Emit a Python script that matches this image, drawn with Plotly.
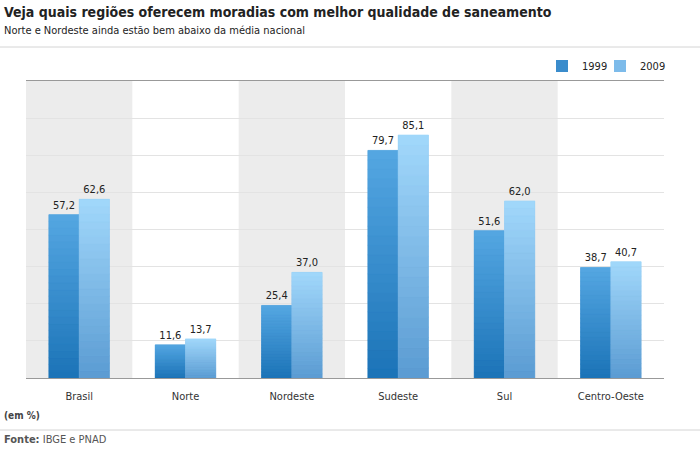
import plotly.graph_objects as go

categories = ["Brasil", "Norte", "Nordeste", "Sudeste", "Sul", "Centro-Oeste"]
values_1999 = [57.2, 11.6, 25.4, 79.7, 51.6, 38.7]
values_2009 = [62.6, 13.7, 37.0, 85.1, 62.0, 40.7]
series_names = ["1999", "2009"]

title_text = "Veja quais regiões oferecem moradias com melhor qualidade de saneamento"
subtitle_text = "Norte e Nordeste ainda estão bem abaixo da média nacional"
unit_text = "(em %)"
source_label = "Fonte:"
source_text = "IBGE e PNAD"

FONT = "DejaVu Sans Condensed, DejaVu Sans, sans-serif"
W, H = 700, 450
ML, MR, MT, MB = 26, 36, 81, 72
PW = W - ML - MR
PH = H - MT - MB

# gradients (bottom -> top)
grad = {
    "1999": ((0x1b, 0x73, 0xb7), (0x55, 0xa7, 0xe2)),
    "2009": ((0x5a, 0x9b, 0xd2), (0xa2, 0xd8, 0xfb)),
}
mid = {"1999": "#3a8ccc", "2009": "#7dbbea"}


def lerp(c0, c1, t):
    return "rgb(%d,%d,%d)" % tuple(round(a + (b - a) * t) for a, b in zip(c0, c1))


def fmt(v):
    return f"{v:.1f}".replace(".", ",")


fig = go.Figure()
N = 24
for name, vals in zip(series_names, [values_1999, values_2009]):
    fig.add_trace(go.Bar(
        x=categories, y=vals, name=name, offsetgroup=name,
        marker=dict(color=mid[name], line=dict(width=0)),
        text=[fmt(v) for v in vals], textposition="outside",
        textfont=dict(family=FONT, size=11, color="#222"),
        cliponaxis=False, hoverinfo="skip",
    ))
    c0, c1 = grad[name]
    for k in range(N):
        col = lerp(c0, c1, (k + 0.5) / N)
        fig.add_trace(go.Bar(
            x=categories, y=[v / N for v in vals], base=[v * k / N for v in vals],
            offsetgroup=name, showlegend=False, hoverinfo="skip",
            marker=dict(color=col, line=dict(width=0.6, color=col)),
        ))

# invisible spacer entry so the last legend label is not clipped
fig.add_trace(go.Scatter(x=[None], y=[None], mode="markers", name="\u00a0",
                         marker=dict(color="rgba(0,0,0,0)"), hoverinfo="skip"))

shapes = []
for i, c in enumerate(categories):
    if i % 2 == 0:
        shapes.append(dict(type="rect", xref="x", yref="paper", x0=i - 0.5, x1=i + 0.5,
                           y0=0, y1=1, fillcolor="#ececec", line=dict(width=0), layer="below"))


def py(pix):
    return (H - MB - pix) / PH


def px(pix):
    return (pix - ML) / PW


shapes.append(dict(type="line", xref="paper", yref="paper", x0=px(0), x1=px(700), y0=py(47), y1=py(47),
                   line=dict(color="#d4d4d4", width=1)))
shapes.append(dict(type="line", xref="paper", yref="paper", x0=px(0), x1=px(700), y0=py(430), y1=py(430),
                   line=dict(color="#d4d4d4", width=1)))

annotations = [
    dict(text=f"<b>{title_text}</b>", xref="paper", yref="paper", x=px(2), y=py(12), xanchor="left",
         yanchor="middle", showarrow=False, font=dict(family=FONT, size=14, color="#222")),
    dict(text=subtitle_text, xref="paper", yref="paper", x=px(2), y=py(30), xanchor="left",
         yanchor="middle", showarrow=False, font=dict(family=FONT, size=11, color="#222")),
    dict(text=f"<b>{unit_text}</b>", xref="paper", yref="paper", x=px(2), y=py(415), xanchor="left",
         yanchor="middle", showarrow=False, font=dict(family=FONT, size=10, color="#444")),
    dict(text=f"<b>{source_label}</b> {source_text}", xref="paper", yref="paper", x=px(2), y=py(439),
         xanchor="left", yanchor="middle", showarrow=False, font=dict(family=FONT, size=11, color="#555")),
]

fig.update_layout(
    width=W, height=H,
    margin=dict(l=ML, r=MR, t=MT, b=MB, autoexpand=False),
    paper_bgcolor="white", plot_bgcolor="rgba(0,0,0,0)",
    barmode="group", bargap=0.43, bargroupgap=0,
    font=dict(family=FONT, size=11, color="#333"),
    shapes=shapes, annotations=annotations,
    showlegend=True,
    legend=dict(orientation="h", xref="container", yref="container", x=542 / W, xanchor="left",
                y=1 - 66 / H, yanchor="middle", font=dict(family=FONT, size=11, color="#222"),
                entrywidth=13, entrywidthmode="pixels",
                bgcolor="rgba(0,0,0,0)", itemclick=False),
    xaxis=dict(showline=True, mirror=True, linecolor="#999", linewidth=1, ticks="",
               ticklabelstandoff=8,
               tickfont=dict(family=FONT, size=11, color="#333"), fixedrange=True),
    yaxis=dict(range=[0, 104], dtick=13, showticklabels=False, showgrid=True, gridcolor="#e3e3e3",
               zeroline=False, showline=False, fixedrange=True),
)

fig.write_html("out.html", config={"displayModeBar": False},
               post_script="document.body.style.margin='0';")
